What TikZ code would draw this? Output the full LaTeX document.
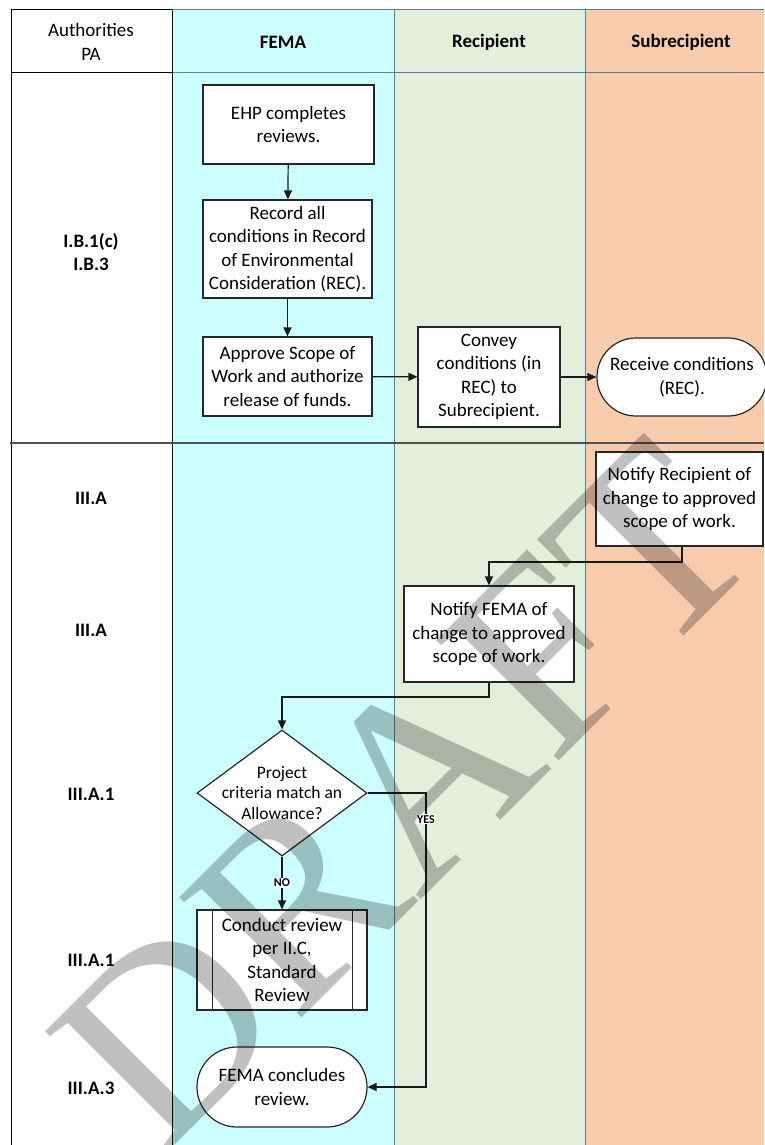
\documentclass[tikz,border=0pt]{standalone}
\usepackage{fontspec}
\setmainfont{Carlito}
\newfontfamily\wmfont{Liberation Serif}
\usetikzlibrary{shapes.geometric,shapes.misc,arrows.meta}
\definecolor{femac}{RGB}{204,255,255}
\definecolor{recc}{RGB}{226,239,218}
\definecolor{subc}{RGB}{248,203,173}
\definecolor{lanec}{RGB}{90,125,160}
\definecolor{sepc}{RGB}{80,80,80}
\definecolor{wmc}{RGB}{192,192,192}
\begin{document}
\begin{tikzpicture}[x=1pt,y=-1pt,
  every node/.style={font=\fontsize{19}{23.5}\selectfont, align=center, inner sep=0pt},
  box/.style={draw=black!85, line width=1.2pt, fill=white, rectangle},
  term/.style={draw=black!85, line width=1.2pt, fill=white, rounded rectangle},
  dec/.style={draw=black!85, line width=1.2pt, fill=white, diamond},
  dectext/.style={font=\fontsize{17.5}{20.5}\selectfont},
  hdr/.style={font=\fontsize{19}{23.5}\selectfont\bfseries},
  auth/.style={font=\fontsize{19}{23.5}\selectfont\bfseries},
  flow/.style={draw=black!90, line width=1.2pt, -{Triangle[length=9pt,width=8pt]}},
  lbl/.style={fill=white, font=\fontsize{12}{12}\selectfont\bfseries, inner sep=1pt}
]
\useasboundingbox (0,0) rectangle (764,1145);
\fill[white] (0,0) rectangle (764,1145);
\fill[femac] (172,10) rectangle (394,1145);
\fill[recc] (394,10) rectangle (585,1145);
\fill[subc] (585,10) rectangle (764,1145);
\draw[lanec, line width=1pt] (172,10) -- (764,10) (172,73) -- (764,73)
  (394,10) -- (394,1145) (585,10) -- (585,1145);
\draw[black, line width=1pt] (11,10) -- (172,10) (11,73) -- (172,73)
  (11,10) -- (11,1145) (172,10) -- (172,1145);
\draw[sepc, line width=2.5pt] (10,443) -- (764,443);

% headers
\node (hauth) at (91,42) {Authorities\\PA};
\node[hdr] (hfema) at (283,42) {FEMA};
\node[hdr] (hrec) at (489,42) {Recipient};
\node[hdr] (hsub) at (681,42) {Subrecipient};

% authorities
\node[auth] (a1) at (91,252) {I.B.1(c)\\I.B.3};
\node[auth] (a2) at (91,498) {III.A};
\node[auth] (a3) at (91,630) {III.A};
\node[auth] (a4) at (91,794) {III.A.1};
\node[auth] (a5) at (91,960) {III.A.1};
\node[auth] (a6) at (91,1088) {III.A.3};

% nodes
\node[box, minimum width=171pt, minimum height=79pt] (ehp) at (288.5,124.5) {EHP completes\\reviews.};
\node[box, minimum width=169pt, minimum height=98pt] (rec) at (287.5,249) {Record all\\conditions in Record\\of Environmental\\Consideration (REC).};
\node[box, minimum width=169pt, minimum height=79pt] (appr) at (287.5,376.5) {Approve Scope of\\Work and authorize\\release of funds.};
\node[box, minimum width=142pt, minimum height=100pt] (conv) at (489,377) {Convey\\conditions (in\\REC) to\\Subrecipient.};
\node[term, minimum width=170pt, minimum height=78pt] (recv) at (682,377) {Receive conditions\\(REC).};
\node[box, minimum width=167pt, minimum height=94pt] (nrec) at (679.5,499) {Notify Recipient of\\change to approved\\scope of work.};
\node[box, minimum width=170pt, minimum height=96pt] (nfema) at (489,634) {Notify FEMA of\\change to approved\\scope of work.};
\node[dec, minimum width=170pt, minimum height=126pt] (crit) at (282,793) {};
\node[dectext] (crittext) at (crit.center) {Project\\criteria match an\\Allowance?};
\node[box, minimum width=170pt, minimum height=100pt] (cond) at (282,960) {Conduct review\\per II.C,\\Standard\\Review};
\draw[black!85, line width=1.2pt] ([xshift=16pt]cond.north west) -- ([xshift=16pt]cond.south west)
  ([xshift=-15pt]cond.north east) -- ([xshift=-15pt]cond.south east);
\node[term, minimum width=170pt, minimum height=80pt] (conc) at (282,1087) {FEMA concludes\\review.};

% connectors
\draw[flow] (nrec.south -| 682,0) -- (682,562) -- (489,562) -- (nfema.north);
\draw[flow] (ehp) -- (rec);
\draw[flow] (rec) -- (appr);
\draw[flow] (appr) -- (conv);
\draw[flow] (conv) -- (recv);
\draw[flow] (nfema.south) -- (489,697) -- (282,697) -- (crit.north);
\draw[flow] (crit.south) -- node[lbl] {NO} (cond.north);
\draw[flow] (crit.east) -- (426,793) -- node[lbl, pos=0.09] {YES} (426,1087) -- (conc.east);

% watermark
\begin{scope}[blend mode=multiply]
\node[font=\wmfont\fontsize{262}{262}\selectfont, text=wmc, rotate=45, anchor=base west] (wm) at (161.6,1158.6) {DRAFT};
\end{scope}
\end{tikzpicture}
\end{document}
